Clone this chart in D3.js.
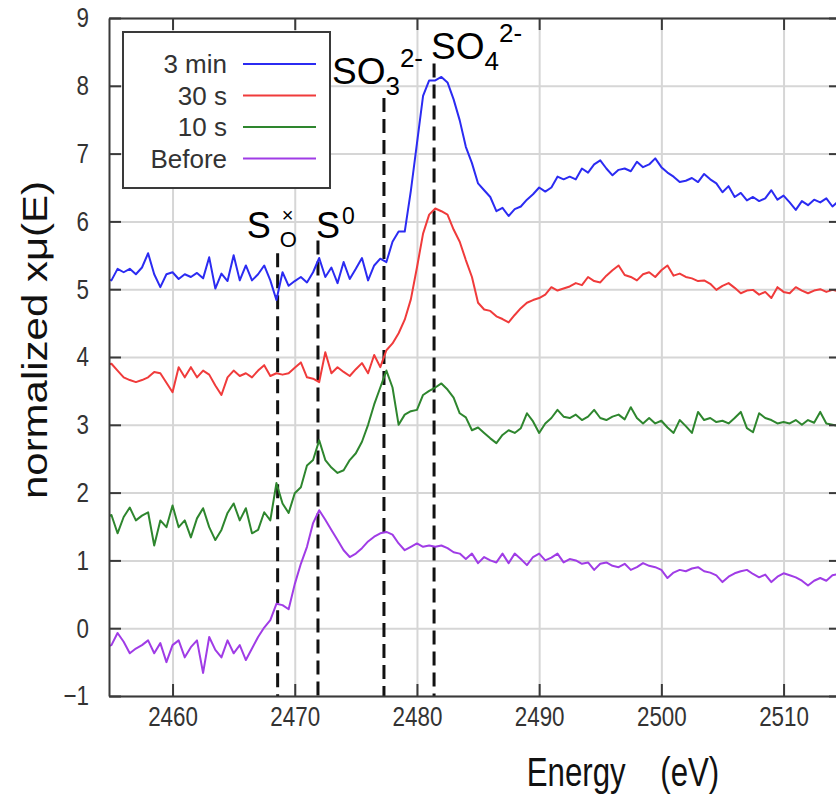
<!DOCTYPE html>
<html>
<head>
<meta charset="utf-8">
<script src="https://cdn.jsdelivr.net/npm/d3@7"></script>
<style>
  body { margin: 0; background: #fff; }
  svg { display: block; font-family: "Liberation Sans", Arial, sans-serif; }
</style>
</head>
<body>
<svg width="836" height="798"></svg>
<script>
// photon energy (eV)
var energy = [
  2454.5,2455,2455.5,2456,2456.5,2457,2457.5,2458,2458.5,2459,
  2459.5,2460,2460.5,2461,2461.5,2462,2462.5,2463,2463.5,2464,
  2464.5,2465,2465.5,2466,2466.5,2467,2467.5,2468,2468.5,2469,
  2469.5,2470,2470.5,2471,2471.5,2472,2472.5,2473,2473.5,2474,
  2474.5,2475,2475.5,2476,2476.5,2477,2477.5,2478,2478.5,2479,
  2479.5,2480,2480.5,2481,2481.5,2482,2482.5,2483,2483.5,2484,
  2484.5,2485,2485.5,2486,2486.5,2487,2487.5,2488,2488.5,2489,
  2489.5,2490,2490.5,2491,2491.5,2492,2492.5,2493,2493.5,2494,
  2494.5,2495,2495.5,2496,2496.5,2497,2497.5,2498,2498.5,2499,
  2499.5,2500,2500.5,2501,2501.5,2502,2502.5,2503,2503.5,2504,
  2504.5,2505,2505.5,2506,2506.5,2507,2507.5,2508,2508.5,2509,
  2509.5,2510,2510.5,2511,2511.5,2512,2512.5,2513,2513.5,2514,
  2514.5
];

var min3 = [
  5.15,5.13,5.30,5.25,5.30,5.22,5.32,5.53,5.22,5.03,
  5.22,5.25,5.15,5.22,5.18,5.24,5.16,5.47,5.01,5.23,
  5.12,5.50,5.13,5.35,5.13,5.22,5.35,5.13,4.84,5.25,
  5.05,5.12,5.18,5.10,5.25,5.46,5.18,5.32,5.09,5.40,
  5.15,5.30,5.46,5.13,5.35,5.45,5.40,5.70,5.85,5.85,
  6.45,7.15,7.85,8.08,8.08,8.13,8.05,7.80,7.49,7.10,
  6.86,6.56,6.46,6.36,6.15,6.20,6.08,6.18,6.22,6.32,
  6.40,6.50,6.44,6.50,6.66,6.62,6.66,6.62,6.78,6.72,
  6.84,6.90,6.78,6.68,6.76,6.78,6.74,6.88,6.80,6.84,
  6.93,6.80,6.72,6.66,6.58,6.60,6.64,6.58,6.70,6.62,
  6.56,6.43,6.52,6.36,6.42,6.31,6.36,6.30,6.34,6.46,
  6.32,6.38,6.28,6.17,6.30,6.24,6.32,6.28,6.34,6.22,
  6.30
];

var sec30 = [
  3.88,3.90,3.80,3.70,3.66,3.63,3.66,3.70,3.78,3.76,
  3.62,3.48,3.85,3.70,3.85,3.70,3.80,3.74,3.58,3.44,
  3.70,3.80,3.72,3.76,3.70,3.80,3.88,3.72,3.76,3.74,
  3.76,3.84,3.92,3.70,3.68,3.63,4.07,3.76,3.85,3.78,
  3.72,3.82,3.91,3.76,4.03,3.85,4.10,4.20,4.35,4.55,
  4.85,5.32,5.82,6.10,6.19,6.15,6.10,5.88,5.70,5.43,
  5.18,4.80,4.70,4.68,4.60,4.56,4.51,4.62,4.72,4.80,
  4.84,4.87,4.92,5.03,4.98,5.01,5.04,5.09,5.06,5.18,
  5.12,5.10,5.20,5.28,5.35,5.21,5.18,5.13,5.22,5.25,
  5.18,5.28,5.35,5.20,5.23,5.18,5.16,5.12,5.13,5.08,
  4.99,5.05,5.09,5.02,4.94,4.98,4.99,4.92,4.96,4.87,
  5.03,4.96,4.94,5.03,4.98,4.94,4.98,5.00,4.96,4.99,
  4.97
];

var sec10 = [
  1.62,1.67,1.40,1.64,1.78,1.59,1.66,1.71,1.22,1.59,
  1.49,1.81,1.49,1.59,1.34,1.62,1.77,1.49,1.30,1.45,
  1.70,1.84,1.59,1.77,1.40,1.45,1.71,1.59,2.14,1.84,
  1.70,1.99,2.08,2.40,2.48,2.77,2.48,2.37,2.29,2.33,
  2.48,2.58,2.75,3.00,3.30,3.55,3.80,3.55,3.00,3.15,
  3.20,3.22,3.44,3.50,3.55,3.61,3.52,3.40,3.17,3.11,
  2.92,2.96,2.88,2.80,2.73,2.85,2.92,2.88,2.95,3.17,
  3.05,2.88,3.02,3.10,3.22,3.12,3.10,3.15,3.07,3.12,
  3.22,3.10,3.07,3.12,3.15,3.08,3.26,3.10,3.02,3.10,
  3.02,3.06,2.96,2.88,3.07,2.98,2.88,3.19,3.07,3.10,
  3.04,3.06,3.02,3.10,3.19,2.95,2.89,3.17,3.10,3.07,
  3.02,3.04,3.02,3.07,3.00,3.07,3.03,3.19,3.02,3.00,
  2.98
];

var before = [
  -0.28,-0.25,-0.07,-0.20,-0.37,-0.30,-0.25,-0.18,-0.37,-0.22,
  -0.50,-0.25,-0.18,-0.43,-0.28,-0.18,-0.66,-0.13,-0.32,-0.43,
  -0.18,-0.37,-0.25,-0.47,-0.30,-0.13,0.01,0.12,0.36,0.34,
  0.28,0.65,0.95,1.20,1.55,1.74,1.60,1.45,1.30,1.15,
  1.05,1.10,1.18,1.28,1.35,1.40,1.42,1.38,1.25,1.15,
  1.20,1.25,1.20,1.22,1.20,1.22,1.18,1.12,1.10,1.02,
  1.10,0.96,1.05,1.00,0.97,1.10,0.96,1.10,1.02,0.93,
  1.05,1.10,1.00,1.04,1.10,0.97,1.02,1.00,0.95,0.97,
  0.86,0.95,0.97,0.92,0.90,0.95,0.86,0.90,0.96,0.92,
  0.90,0.86,0.74,0.82,0.86,0.84,0.88,0.90,0.84,0.82,
  0.78,0.68,0.76,0.81,0.84,0.86,0.80,0.75,0.79,0.68,
  0.76,0.81,0.78,0.75,0.70,0.63,0.70,0.74,0.70,0.78,
  0.80
];

var seriesNames = ["3 min", "30 s", "10 s", "Before"];
var seriesColors = ["#2b2bf2", "#f03b3b", "#2e862e", "#a03ce6"];
var seriesValues = [min3, sec30, sec10, before];

var xTicks = [2460, 2470, 2480, 2490, 2500, 2510];
var yTicks = [-1, 0, 1, 2, 3, 4, 5, 6, 7, 8, 9];

// marker edges (eV) and where each dashed line starts (y units)
var markEnergy = [2468.6, 2471.9, 2477.3, 2481.4];
var markTop = [5.53, 5.72, 7.82, 8.33];

var pLeft = 109, pRight = 841, pTop = 18, pBottom = 696;

var x = d3.scaleLinear().domain([2454.8, 2514.7]).range([pLeft, pRight]);
var y = d3.scaleLinear().domain([-1, 9]).range([pBottom, pTop]);

var svg = d3.select("svg");

svg.append("defs").append("clipPath").attr("id", "clip")
    .append("rect")
    .attr("x", pLeft).attr("y", pTop)
    .attr("width", pRight - pLeft).attr("height", pBottom - pTop);

// grid
svg.append("g")
    .attr("transform", "translate(0," + pBottom + ")")
    .call(d3.axisBottom(x).tickValues(xTicks).tickSize(-(pBottom - pTop)).tickFormat(""))
    .call(function(g) { g.select(".domain").remove(); })
    .selectAll("line").attr("stroke", "#d6d6d6").attr("stroke-width", 2);
svg.append("g")
    .attr("transform", "translate(" + pLeft + ",0)")
    .call(d3.axisLeft(y).tickValues(yTicks).tickSize(-(pRight - pLeft)).tickFormat(""))
    .call(function(g) { g.select(".domain").remove(); })
    .selectAll("line").attr("stroke", "#d6d6d6").attr("stroke-width", 2);

// dashed marker lines
svg.append("g").selectAll("line")
    .data(markEnergy)
    .enter()
    .append("line")
    .attr("x1", function(d) { return x(d); })
    .attr("x2", function(d) { return x(d); })
    .attr("y1", function(d, i) { return y(markTop[i]); })
    .attr("y2", y(-1))
    .attr("stroke", "#111")
    .attr("stroke-width", 3)
    .attr("stroke-dasharray", "14,7");

// spectra
var line = d3.line()
    .x(function(d) { return x(d[0]); })
    .y(function(d) { return y(d[1]); });

svg.append("g")
    .attr("clip-path", "url(#clip)")
    .selectAll("path")
    .data(seriesValues)
    .enter()
    .append("path")
    .attr("fill", "none")
    .attr("stroke", function(d, i) { return seriesColors[i]; })
    .attr("stroke-width", 2)
    .attr("stroke-linejoin", "round")
    .attr("d", function(vals) { return line(vals.map(function(v, i) { return [energy[i], v]; })); });

// axes with inward ticks
var tickStyle = function(g) {
    g.select(".domain").attr("stroke", "#3a3a3a").attr("stroke-width", 2);
    g.selectAll(".tick line").attr("stroke", "#3a3a3a").attr("stroke-width", 2);
    g.selectAll("text").attr("fill", "#333").attr("font-size", 28)
        .attr("font-family", "Liberation Sans, Arial, sans-serif");
};
var sx = 0.8; // the picture's text is narrow
svg.append("g")
    .attr("transform", "translate(0," + pBottom + ")")
    .call(d3.axisBottom(x).tickValues(xTicks).tickFormat(d3.format("d"))
        .tickSize(-12).tickSizeOuter(0).tickPadding(10))
    .call(tickStyle)
    .selectAll("text").attr("transform", "scale(" + sx + ",1)");
svg.append("g")
    .attr("transform", "translate(0," + pTop + ")")
    .call(d3.axisTop(x).tickValues(xTicks).tickSize(-12).tickSizeOuter(0).tickFormat(""))
    .call(tickStyle);
svg.append("g")
    .attr("transform", "translate(" + pLeft + ",0)")
    .call(d3.axisLeft(y).tickValues(yTicks).tickFormat(d3.format("d"))
        .tickSize(-12).tickSizeOuter(0).tickPadding(20))
    .call(tickStyle)
    .selectAll("text").attr("transform", "scale(" + sx + ",1)").attr("x", -20 / sx);
svg.append("g")
    .attr("transform", "translate(" + pRight + ",0)")
    .call(d3.axisRight(y).tickValues(yTicks).tickSize(-12).tickSizeOuter(0).tickFormat(""))
    .call(tickStyle);

// axis titles
svg.append("text")
    .attr("transform", "translate(623,786) scale(0.78,1)")
    .attr("text-anchor", "middle")
    .attr("font-size", 40)
    .attr("fill", "#111")
    .style("white-space", "pre")
    .text("Energy    (eV)");
svg.append("text")
    .attr("transform", "translate(47,340) rotate(-90) scale(1.2,1)")
    .attr("text-anchor", "middle")
    .attr("font-size", 35)
    .attr("fill", "#111")
    .text("normalized xμ(E)");

// legend
var legend = svg.append("g");
legend.append("rect")
    .attr("x", 123).attr("y", 32).attr("width", 207).attr("height", 156)
    .attr("fill", "#fff").attr("stroke", "#3a3a3a").attr("stroke-width", 2);
var items = legend.selectAll("g.item")
    .data(seriesNames)
    .enter()
    .append("g")
    .attr("transform", function(d, i) { return "translate(0," + (73 + i * 31.5) + ")"; });
items.append("text")
    .attr("x", 227).attr("text-anchor", "end")
    .attr("font-size", 26).attr("fill", "#333")
    .text(function(d) { return d; });
items.append("line")
    .attr("x1", 243).attr("x2", 316).attr("y1", -9).attr("y2", -9)
    .attr("stroke", function(d, i) { return seriesColors[i]; })
    .attr("stroke-width", 2);

// peak labels
var ann = svg.append("g").attr("fill", "#000");
ann.append("text").attr("x", x(markEnergy[0]) - 31).attr("y", 238).attr("font-size", 36).text("S");
ann.append("text").attr("x", x(markEnergy[0]) + 2).attr("y", 247).attr("font-size", 22).text("O");
ann.append("text").attr("x", x(markEnergy[0]) + 4).attr("y", 222).attr("font-size", 20).text("×");

var t2 = ann.append("text").attr("x", x(markEnergy[1]) - 2).attr("y", 238).attr("font-size", 36);
t2.append("tspan").text("S");
t2.append("tspan").attr("font-size", 23).attr("dy", -14).attr("dx", 2).text("0");

var t3 = ann.append("text").attr("x", x(markEnergy[2]) - 52).attr("y", 84).attr("font-size", 37);
t3.append("tspan").text("SO");
t3.append("tspan").attr("font-size", 26).attr("dy", 11).text("3");
t3.append("tspan").attr("font-size", 26).attr("dy", -28).text("2-");

var t4 = ann.append("text").attr("x", x(markEnergy[3]) - 3).attr("y", 59).attr("font-size", 37);
t4.append("tspan").text("SO");
t4.append("tspan").attr("font-size", 26).attr("dy", 11).text("4");
t4.append("tspan").attr("font-size", 26).attr("dy", -28).text("2-");
</script>
</body>
</html>
